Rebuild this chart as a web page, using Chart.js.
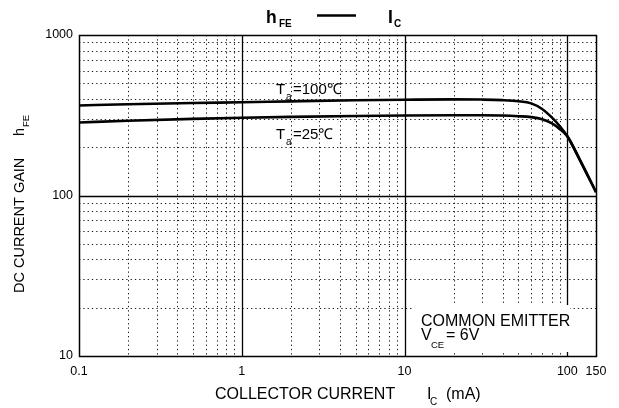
<!DOCTYPE html>
<html>
<head>
<meta charset="utf-8">
<script src="https://cdn.jsdelivr.net/npm/chart.js@4/dist/chart.umd.min.js"></script>
<style>
html,body{margin:0;padding:0;background:#fff;}
#wrap{width:619px;height:408px;}
</style>
</head>
<body>
<div id="wrap"><canvas id="c" width="619" height="408"></canvas></div>
<script>
// ---- data ----
const collectorCurrent = [0.1, 0.2, 0.5, 1, 2, 5, 10, 20, 30, 40, 50, 60, 70, 80, 90, 100, 120, 150];
const hfeTa100 = [364, 370, 377, 381, 386, 392, 395, 397, 396, 393, 387, 375, 346, 308, 270, 234, 165, 105];
const hfeTa25  = [285, 292, 300, 305, 309, 313, 315, 316, 316, 315, 312, 308, 299, 282, 259, 234, 165, 105];
const xTickValues = [0.1, 1, 10, 100, 150];
const yTickValues = [10, 100, 1000];
const xMajorGrid = [1, 10, 100];
const yMajorGrid = [100];
const xMinorGrid = [0.2,0.3,0.4,0.5,0.6,0.7,0.8,0.9, 2,3,4,5,6,7,8,9, 20,30,40,50,60,70,80,90];
const yMinorGrid = [20,30,40,50,60,70,80,90, 200,300,400,500,600,700,800,900];

const FONT = '"Liberation Sans", Arial, Helvetica, sans-serif';

function toPts(xs, ys){ return xs.map((x,i)=>({x:x, y:ys[i]})); }

const gridPlugin = {
  id: 'customGrid',
  beforeDatasetsDraw(chart){
    const ctx = chart.ctx, xs = chart.scales.x, ys = chart.scales.y, a = chart.chartArea;
    ctx.save();
    ctx.lineWidth = 1;
    ctx.strokeStyle = '#1a1a1a';
    ctx.setLineDash([1.3, 3]);
    xMinorGrid.forEach(v=>{
      const p = Math.round(xs.getPixelForValue(v)) + 0.5;
      ctx.beginPath(); ctx.moveTo(p, a.top); ctx.lineTo(p, a.bottom); ctx.stroke();
    });
    yMinorGrid.forEach(v=>{
      const p = Math.round(ys.getPixelForValue(v)) + 0.5;
      ctx.beginPath(); ctx.moveTo(a.left, p); ctx.lineTo(a.right, p); ctx.stroke();
    });
    ctx.setLineDash([]);
    ctx.strokeStyle = '#000';
    ctx.lineWidth = 1.3;
    xMajorGrid.forEach(v=>{
      const p = Math.round(xs.getPixelForValue(v)) + 0.5;
      ctx.beginPath(); ctx.moveTo(p, a.top); ctx.lineTo(p, a.bottom); ctx.stroke();
    });
    yMajorGrid.forEach(v=>{
      const p = Math.round(ys.getPixelForValue(v)) + 0.5;
      ctx.beginPath(); ctx.moveTo(a.left, p); ctx.lineTo(a.right, p); ctx.stroke();
    });
    // frame
    ctx.lineWidth = 1.5;
    ctx.strokeRect(Math.round(a.left)+0.5, Math.round(a.top)+0.5, Math.round(a.right-a.left), Math.round(a.bottom-a.top));
    // white box behind note
    ctx.fillStyle = '#fff';
    ctx.fillRect(413, 305, 157, 47);
    ctx.restore();
  },
  afterDatasetsDraw(chart){
    const ctx = chart.ctx;
    ctx.save();
    ctx.fillStyle = '#000';
    ctx.textBaseline = 'alphabetic';
    ctx.textAlign = 'left';
    // title
    ctx.font = 'bold 17.5px ' + FONT;
    ctx.fillText('h', 266, 23);
    ctx.font = 'bold 10px ' + FONT;
    ctx.fillText('FE', 279, 27);
    ctx.lineWidth = 2.5; ctx.strokeStyle = '#000';
    ctx.beginPath(); ctx.moveTo(317, 15.5); ctx.lineTo(356, 15.5); ctx.stroke();
    ctx.font = 'bold 17.5px ' + FONT;
    ctx.fillText('I', 388, 23);
    ctx.font = 'bold 10px ' + FONT;
    ctx.fillText('C', 394, 27);

    // curve labels
    ctx.font = '15px ' + FONT;
    ctx.fillText('T', 276, 94);
    ctx.fillText('=100\u2103', 293, 94);
    ctx.fillText('T', 276, 139);
    ctx.fillText('=25\u2103', 293, 139);
    ctx.font = '10px ' + FONT;
    ctx.fillText('a', 286, 100);
    ctx.fillText('a', 286, 145);

    // note
    ctx.font = '16px ' + FONT;
    ctx.fillText('COMMON EMITTER', 421, 326);
    ctx.fillText('V', 421, 340);
    ctx.fillText('= 6V', 446, 340);
    ctx.font = '9.5px ' + FONT;
    ctx.fillText('CE', 431, 348);

    // x axis title
    ctx.font = '16px ' + FONT;
    ctx.fillText('COLLECTOR CURRENT', 215, 399);
    ctx.fillText('I', 427, 399);
    ctx.fillText('(mA)', 446, 399);
    ctx.font = '10px ' + FONT;
    ctx.fillText('C', 430, 405);

    // y axis title (rotated)
    ctx.translate(24, 0);
    ctx.rotate(-Math.PI/2);
    ctx.font = '14.5px ' + FONT;
    ctx.fillText('DC CURRENT GAIN', -293, 0);
    ctx.fillText('h', -136, 0);
    ctx.font = '9.5px ' + FONT;
    ctx.fillText('FE', -127, 5);
    ctx.restore();
  }
};

new Chart(document.getElementById('c'), {
  type: 'line',
  data: {
    datasets: [
      { label: 'Ta=100\u2103', data: toPts(collectorCurrent, hfeTa100), borderColor: '#000', borderWidth: 2.6, pointRadius: 0, fill: false, cubicInterpolationMode: 'monotone' },
      { label: 'Ta=25\u2103', data: toPts(collectorCurrent, hfeTa25), borderColor: '#000', borderWidth: 2.6, pointRadius: 0, fill: false, cubicInterpolationMode: 'monotone' }
    ]
  },
  options: {
    responsive: false,
    animation: false,
    devicePixelRatio: 1,
    layout: { padding: { left: 0, right: 23, top: 35, bottom: 0 } },
    plugins: { legend: { display: false }, tooltip: { enabled: false }, title: { display: false } },
    scales: {
      x: {
        type: 'logarithmic', min: 0.1, max: 150,
        afterBuildTicks(s){ s.ticks = xTickValues.map(v=>({value:v})); },
        afterFit(s){ s.height = 52; },
        grid: { display: false, drawTicks: false },
        border: { display: false },
        ticks: { autoSkip: false, maxRotation: 0, padding: 8, color: '#000', font: { family: FONT, size: 12.5 },
          callback(v){ return String(v); } }
      },
      y: {
        type: 'logarithmic', min: 10, max: 1000,
        afterBuildTicks(s){ s.ticks = yTickValues.map(v=>({value:v})); },
        afterFit(s){ s.width = 79; },
        grid: { display: false, drawTicks: false },
        border: { display: false },
        ticks: { autoSkip: false, padding: 6, color: '#000', font: { family: FONT, size: 12.5 },
          callback(v){ return String(v); } }
      }
    }
  },
  plugins: [gridPlugin]
});
</script>
</body>
</html>
